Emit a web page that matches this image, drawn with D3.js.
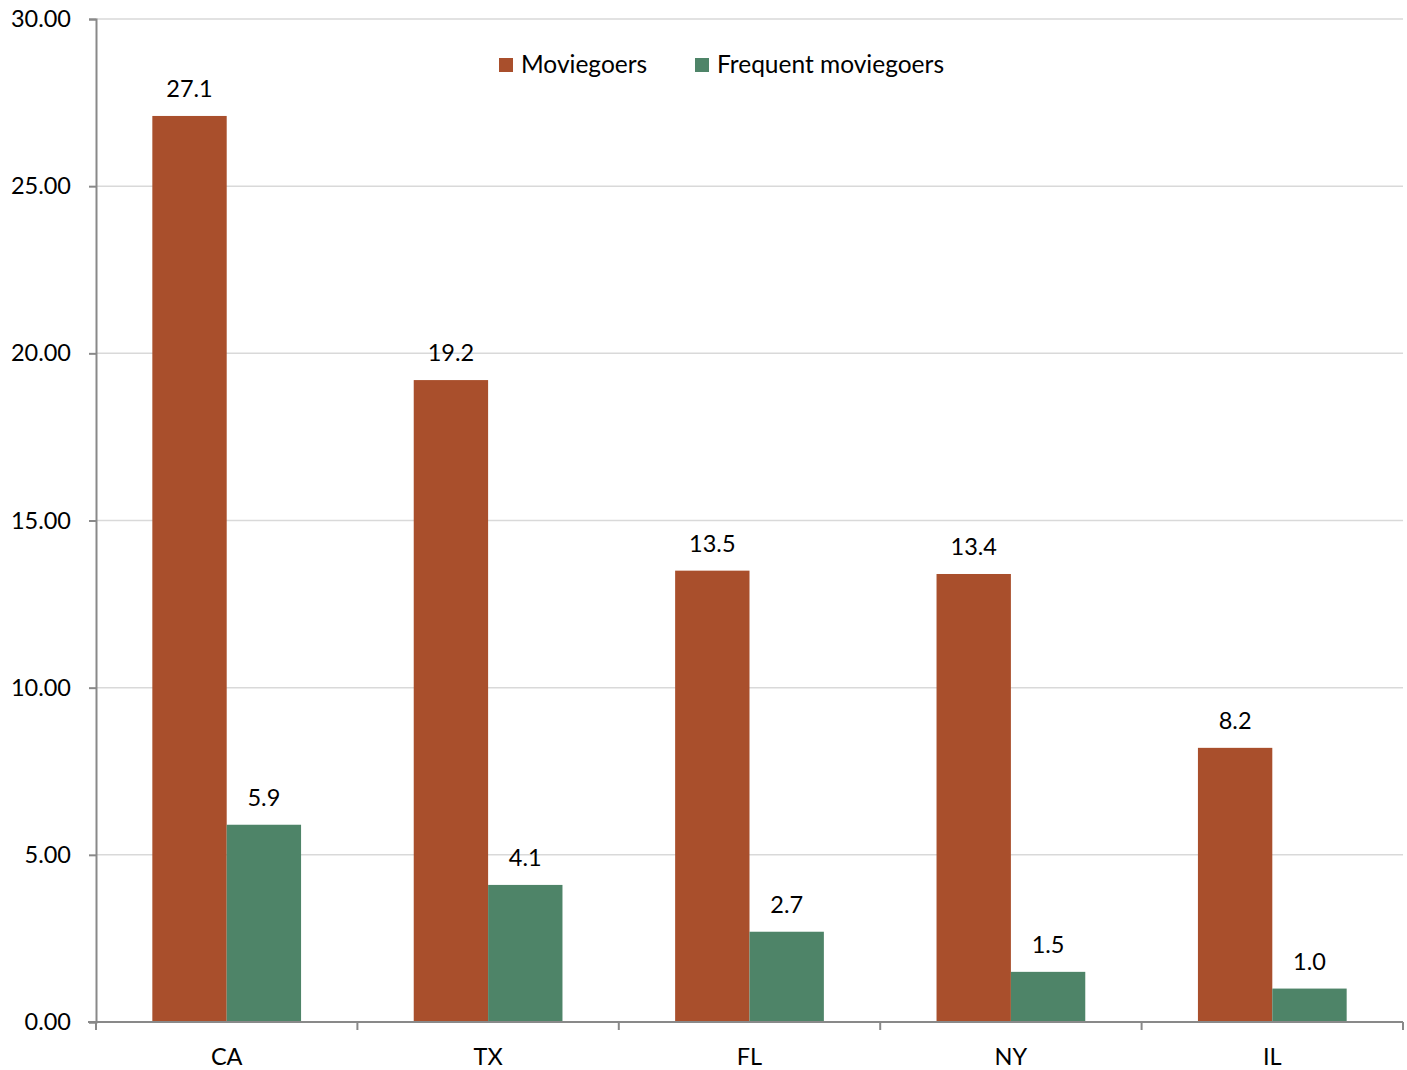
<!DOCTYPE html>
<html><head><meta charset="utf-8">
<script src="https://cdn.jsdelivr.net/npm/d3@7"></script>
<style>body{margin:0;background:#fff}svg{display:block}text{font-family:Lato,"Open Sans",sans-serif;fill:#000}</style>
</head><body>
<svg id="c" width="1407" height="1070"></svg>
<script>
const categories = ["CA","TX","FL","NY","IL"];
const seriesNames = ["Moviegoers","Frequent moviegoers"];
const moviegoers = [27.1,19.2,13.5,13.4,8.2];
const frequentMoviegoers = [5.9,4.1,2.7,1.5,1.0];
const yTicks = [0,5,10,15,20,25,30];
const colors = ["#A94F2C","#4E8468"];

(function(){
const svg = d3.select("#c");
const mLeft = 96, mRight = 1403, mTop = 19, mBottom = 1022;
const y = d3.scaleLinear().domain([0,30]).range([mBottom, mTop]);
const x0 = d3.scaleBand().domain(categories).range([mLeft, mRight]).padding(0);
const bw = x0.bandwidth();
const x1 = d3.scaleBand().domain(seriesNames).range([bw*0.2155, bw*0.7845]).padding(0);

svg.append("g").selectAll("line").data(yTicks.filter(d=>d>0)).join("line")
  .attr("x1", mLeft).attr("x2", mRight).attr("y1", d=>y(d)).attr("y2", d=>y(d))
  .attr("stroke","#D9D9D9").attr("stroke-width",1.5);

const ya = svg.append("g").attr("transform",`translate(${mLeft},0)`)
  .call(d3.axisLeft(y).tickValues(yTicks).tickFormat(d3.format(".2f")).tickSize(7).tickPadding(18));
ya.select(".domain").attr("stroke","#898989").attr("stroke-width",2);
ya.selectAll(".tick line").attr("stroke","#898989").attr("stroke-width",2);
ya.selectAll("text").style("font-size","23.5px").attr("fill","#000").style("font-family","Lato");

const data = categories.map((c,i)=>({cat:c, vals:[moviegoers[i], frequentMoviegoers[i]]}));

const groups = svg.append("g").selectAll("g").data(data).join("g")
  .attr("transform", d=>`translate(${x0(d.cat)},0)`);
groups.selectAll("rect").data(d=>d.vals.map((v,j)=>({s:seriesNames[j], v, j}))).join("rect")
  .attr("x", d=>x1(d.s)).attr("width", x1.bandwidth())
  .attr("y", d=>y(d.v)).attr("height", d=>y(0)-y(d.v))
  .attr("fill", d=>colors[d.j]);
groups.selectAll("text.lbl").data(d=>d.vals.map((v,j)=>({s:seriesNames[j], v, j}))).join("text")
  .attr("class","lbl")
  .attr("x", d=>x1(d.s)+x1.bandwidth()/2).attr("y", d=>y(d.v)-19)
  .attr("text-anchor","middle").style("font-size","23.5px")
  .text(d=>d3.format(".1f")(d.v));

const xa = svg.append("g").attr("transform",`translate(0,${mBottom})`);
xa.append("line").attr("x1",mLeft-8).attr("x2",mRight).attr("y1",0).attr("y2",0)
  .attr("stroke","#898989").attr("stroke-width",2);
const bounds = categories.map(c=>x0(c)).concat([mRight]);
xa.selectAll("line.tk").data(bounds).join("line").attr("class","tk")
  .attr("x1",d=>d).attr("x2",d=>d).attr("y1",0).attr("y2",8)
  .attr("stroke","#898989").attr("stroke-width",2);
xa.selectAll("text").data(categories).join("text")
  .attr("x", d=>x0(d)+bw/2).attr("y", 43).attr("text-anchor","middle")
  .style("font-size","23.5px").text(d=>d);

const legX = [499, 695];
const leg = svg.append("g").selectAll("g").data(seriesNames).join("g")
  .attr("transform",(d,i)=>`translate(${legX[i]},58)`);
leg.append("rect").attr("width",14).attr("height",14).attr("fill",(d,i)=>colors[i]);
leg.append("text").attr("x",22).attr("y",15).style("font-size","24.5px").text(d=>d);
})();
</script>
</body></html>
